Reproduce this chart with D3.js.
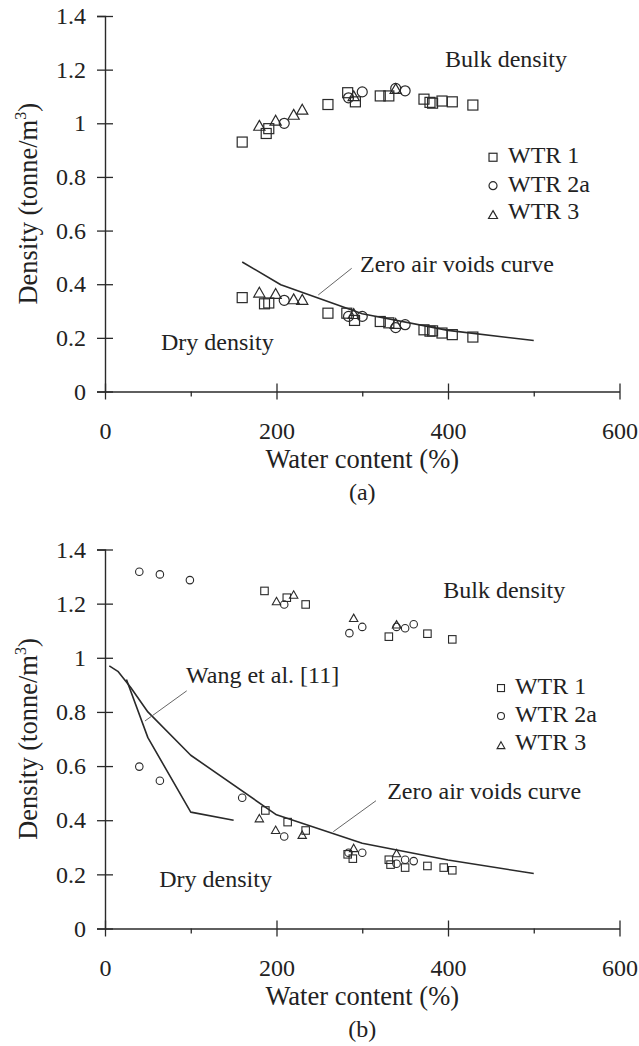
<!DOCTYPE html>
<html>
<head>
<meta charset="utf-8">
<script src="https://cdn.jsdelivr.net/npm/d3@7"></script>
<style>
html,body{margin:0;padding:0;background:#fff;}
svg{display:block;}
text{font-family:"Liberation Serif","Times New Roman",serif;fill:#222;}
</style>
</head>
<body>
<svg id="chart" width="639" height="1046"></svg>
<script>
// ---------- data ----------
const xTicks = [0, 200, 400, 600];
const xMinorTicks = [100, 300, 500];
const yTicks = [0, 0.2, 0.4, 0.6, 0.8, 1, 1.2, 1.4];
const seriesNames = ["WTR 1", "WTR 2a", "WTR 3"];

// Panel (a)
const aBulkWTR1 = [[160,0.93],[188,0.962],[191,0.98],[260,1.07],[283,1.114],[292,1.08],[321,1.102],[331,1.102],[372,1.09],[379,1.078],[382,1.075],[393,1.083],[405,1.08],[429,1.068]];
const aBulkWTR2a = [[209,1.0],[284,1.095],[300,1.117],[339,1.13],[350,1.121]];
const aBulkWTR3 = [[180,0.989],[199,1.008],[220,1.03],[230,1.049],[290,1.099],[339,1.126]];
const aDryWTR1 = [[160,0.35],[186,0.327],[191,0.33],[260,0.292],[282,0.292],[291,0.265],[321,0.261],[331,0.256],[372,0.23],[379,0.225],[382,0.226],[393,0.218],[405,0.212],[429,0.203]];
const aDryWTR2a = [[209,0.34],[284,0.28],[300,0.28],[339,0.238],[350,0.249]];
const aDryWTR3 = [[180,0.367],[199,0.362],[220,0.342],[230,0.34],[290,0.287],[339,0.25]];
const aZeroAirVoids = [[160,0.483],[205,0.398],[300,0.29],[400,0.228],[500,0.19]];

// Panel (b)
const bBulkWTR1 = [[186,1.247],[212,1.222],[234,1.197],[331,1.078],[376,1.089],[405,1.068]];
const bBulkWTR2a = [[40,1.318],[64,1.308],[99,1.287],[209,1.197],[285,1.091],[300,1.114],[340,1.114],[350,1.109],[360,1.124]];
const bBulkWTR3 = [[200,1.207],[220,1.231],[290,1.145],[340,1.121]];
const bDryWTR1 = [[187,0.436],[213,0.393],[234,0.362],[283,0.274],[289,0.258],[331,0.254],[333,0.236],[350,0.225],[376,0.231],[395,0.225],[405,0.215]];
const bDryWTR2a = [[40,0.598],[64,0.546],[160,0.483],[209,0.34],[284,0.28],[300,0.28],[340,0.239],[350,0.254],[360,0.249]];
const bDryWTR3 = [[180,0.405],[199,0.362],[230,0.344],[290,0.295],[340,0.276]];
const bZeroAirVoids = [[5,0.97],[15,0.95],[30,0.89],[50,0.80],[100,0.64],[200,0.42],[300,0.315],[400,0.253],[500,0.203]];
const bWang = [[25,0.92],[50,0.705],[100,0.43],[150,0.40]];

// ---------- drawing ----------
const svg = d3.select("#chart");
const INK = "#2a2a2a";

function drawPanel(cfg) {
  const x = d3.scaleLinear().domain([0, 600]).range([105, 619.5]);
  const y = d3.scaleLinear().domain([0, 1.4]).range(cfg.yRange);
  const g = svg.append("g");

  // y axis
  const ya = g.append("g").attr("transform", `translate(${x(0)},0)`)
    .call(d3.axisLeft(y).tickValues(yTicks).tickSize(8).tickPadding(11).tickFormat(d3.format("")));
  ya.select(".domain").attr("stroke", INK).attr("stroke-width", 1.4);
  ya.selectAll(".tick line").attr("x1", 8).attr("stroke", INK).attr("stroke-width", 1.3);
  ya.selectAll(".tick text").attr("font-size", 24).attr("fill", "#222")
    .attr("font-family", "Liberation Serif, serif");

  // x axis
  const xa = g.append("g").attr("transform", `translate(0,${y(0)})`)
    .call(d3.axisBottom(x).tickValues(xTicks).tickSize(8).tickSizeOuter(0).tickPadding(22));
  xa.select(".domain").attr("stroke", INK).attr("stroke-width", 1.4);
  xa.selectAll(".tick line").attr("y1", -8).attr("stroke", INK).attr("stroke-width", 1.3);
  xa.selectAll(".tick text").attr("font-size", 24).attr("fill", "#222")
    .attr("font-family", "Liberation Serif, serif");
  const xm = g.append("g").attr("transform", `translate(0,${y(0)})`)
    .call(d3.axisBottom(x).tickValues(xMinorTicks).tickSize(5).tickFormat(""));
  xm.select(".domain").remove();
  xm.selectAll(".tick line").attr("stroke", INK).attr("stroke-width", 1.3);

  // axis titles
  const midY = (y(0) + y(1.4)) / 2;
  const yt = g.append("text").attr("transform", `translate(37,${midY}) rotate(-90)`)
    .attr("text-anchor", "middle").attr("font-size", 26.5);
  yt.append("tspan").text("Density (tonne/m");
  yt.append("tspan").text("3").attr("font-size", 16).attr("dy", -11);
  yt.append("tspan").text(")").attr("dy", 11);

  g.append("text").attr("x", (x(0) + x(600)) / 2).attr("y", y(0) + 76.5)
    .attr("text-anchor", "middle").attr("font-size", 26.5).text("Water content (%)");
  g.append("text").attr("x", (x(0) + x(600)) / 2).attr("y", y(0) + 108.5)
    .attr("text-anchor", "middle").attr("font-size", 24).text(cfg.caption);

  const line = d3.line().x(d => x(d[0])).y(d => y(d[1]));
  cfg.curves.forEach(c => {
    g.append("path").attr("d", line(c)).attr("fill", "none")
      .attr("stroke", INK).attr("stroke-width", 1.6).attr("stroke-linejoin", "round");
  });

  // leader lines
  cfg.leaders.forEach(l => {
    g.append("line").attr("x1", x(l[0][0])).attr("y1", y(l[0][1]))
      .attr("x2", x(l[1][0])).attr("y2", y(l[1][1]))
      .attr("stroke", "#666").attr("stroke-width", 1);
  });

  // markers
  const ms = cfg.markerSize;
  function marker(sel, type, s) {
    if (type === 0) {
      sel.append("rect").attr("x", -s/2).attr("y", -s/2).attr("width", s).attr("height", s);
    } else if (type === 1) {
      sel.append("circle").attr("r", s/2);
    } else {
      const h = s * 0.95;
      sel.append("path").attr("d", `M0,${-h*0.62} L${s*0.56},${h*0.42} L${-s*0.56},${h*0.42} Z`);
    }
    sel.selectAll("rect,circle,path").attr("fill", "none").attr("stroke", INK).attr("stroke-width", cfg.markerStroke);
  }
  cfg.series.forEach((pts, i) => {
    const type = i % 3;
    pts.forEach(p => {
      const m = g.append("g").attr("transform", `translate(${x(p[0])},${y(p[1])})`);
      marker(m, type, ms);
    });
  });

  // annotations
  cfg.labels.forEach(l => {
    g.append("text").attr("x", x(l.at[0])).attr("y", y(l.at[1]))
      .attr("font-size", 24).text(l.text);
  });

  // legend
  seriesNames.forEach((name, i) => {
    const by = y(cfg.legend.rows[i]);
    const m = g.append("g").attr("transform", `translate(${x(cfg.legend.symX)},${by - (i === 2 ? 4 : 6)})`);
    marker(m, i, cfg.legend.size);
    g.append("text").attr("x", x(cfg.legend.textX)).attr("y", by).attr("font-size", 24).text(name);
  });
}

drawPanel({
  yRange: [391.5, 16],
  caption: "(a)",
  curves: [aZeroAirVoids],
  leaders: [[[248.7, 0.36], [287.7, 0.4594]]],
  series: [aBulkWTR1, aBulkWTR2a, aBulkWTR3, aDryWTR1, aDryWTR2a, aDryWTR3],
  markerSize: 10,
  markerStroke: 1.2,
  labels: [
    {text: "Bulk density", at: [396.5, 1.211]},
    {text: "Zero air voids curve", at: [297.4, 0.4456]},
    {text: "Dry density", at: [65.3, 0.155]}
  ],
  legend: {symX: 452.5, textX: 470, rows: [0.851, 0.745, 0.642], size: 8}
});

drawPanel({
  yRange: [928.5, 549.5],
  caption: "(b)",
  curves: [bZeroAirVoids, bWang],
  leaders: [[[95.3, 0.878], [46.6, 0.7665]], [[266.2, 0.3576], [316, 0.472]]],
  series: [bBulkWTR1, bBulkWTR2a, bBulkWTR3, bDryWTR1, bDryWTR2a, bDryWTR3],
  markerSize: 7.5,
  markerStroke: 1.1,
  labels: [
    {text: "Bulk density", at: [394.5, 1.22]},
    {text: "Wang et al. [11]", at: [94.5, 0.908]},
    {text: "Zero air voids curve", at: [329.1, 0.477]},
    {text: "Dry density", at: [63.3, 0.154]}
  ],
  legend: {symX: 461.8, textX: 478, rows: [0.866, 0.763, 0.66], size: 7}
});
</script>
</body>
</html>
